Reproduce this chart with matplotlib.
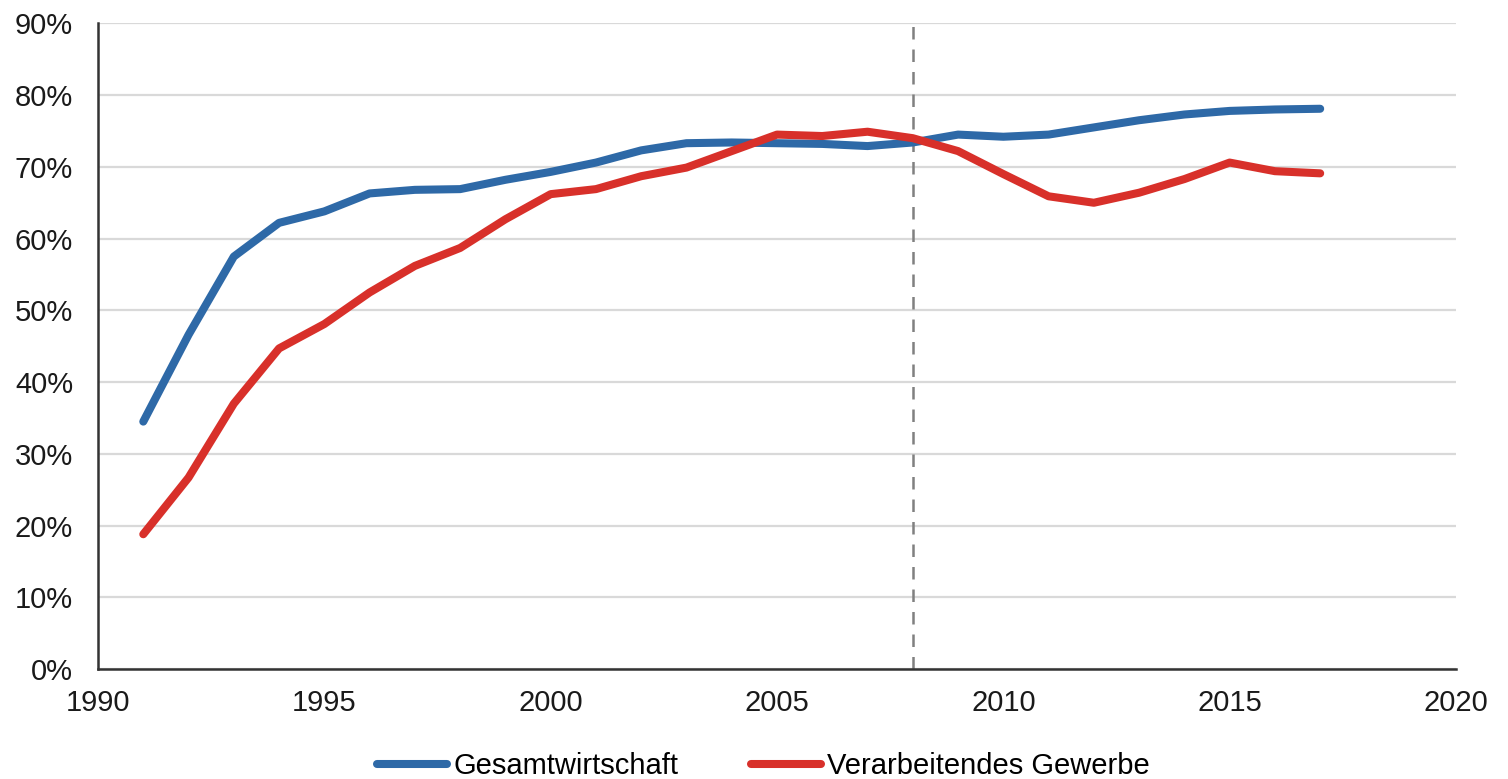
import matplotlib.pyplot as plt
from matplotlib.ticker import FuncFormatter

plt.rcParams['font.family'] = ['Liberation Sans', 'DejaVu Sans']

years = list(range(1991, 2018))
gesamt = [34.5, 46.6, 57.5, 62.2, 63.8, 66.3, 66.8, 66.9, 68.2, 69.3,
          70.6, 72.3, 73.3, 73.4, 73.3, 73.2, 72.9, 73.4, 74.5, 74.2,
          74.5, 75.5, 76.5, 77.3, 77.8, 78.0, 78.1]
verarb = [18.8, 26.7, 37.0, 44.7, 48.1, 52.5, 56.2, 58.7, 62.7, 66.2,
          66.9, 68.7, 69.9, 72.2, 74.5, 74.3, 74.9, 74.0, 72.2, 69.0,
          65.9, 65.0, 66.4, 68.3, 70.6, 69.4, 69.1]
series_names = ['Gesamtwirtschaft', 'Verarbeitendes Gewerbe']
series_colors = ['#2e69a7', '#d8302a']
crisis_year = 2008

fig, ax = plt.subplots(figsize=(15.08, 7.79), dpi=100)
fig.subplots_adjust(left=0.065, right=0.9655, bottom=0.141, top=0.97)

for vals, name, col in zip([gesamt, verarb], series_names, series_colors):
    ax.plot(years, vals, color=col, lw=5.8, label=name,
            solid_capstyle='round', solid_joinstyle='round', zorder=3)

ax.axvline(crisis_year, color='#808080', lw=1.8, ls=(0, (5, 4)), zorder=2)

ax.set_xlim(1990, 2020)
ax.set_ylim(0, 90)
ax.set_xticks(range(1990, 2021, 5))
ax.set_yticks(range(0, 91, 10))
ax.yaxis.set_major_formatter(FuncFormatter(lambda v, p: f'{v:.0f}%'))
ax.tick_params(axis='both', length=0, labelsize=21, colors='#1a1a1a')
ax.tick_params(axis='x', pad=14)
ax.tick_params(axis='y', pad=18)

ax.grid(axis='y', color='#d9d9d9', lw=1.6, zorder=0)
ax.set_axisbelow(True)
for s in ['top', 'right']:
    ax.spines[s].set_visible(False)
for s in ['left', 'bottom']:
    ax.spines[s].set_color('#333333')
    ax.spines[s].set_linewidth(1.8)

ax.legend(loc='upper center', bbox_to_anchor=(0.49, -0.124), ncol=2,
          frameon=False, fontsize=21, handlelength=2.4, handletextpad=0.2,
          columnspacing=2.5, borderaxespad=0.0, borderpad=0.1)

fig.savefig('out.png', dpi=100)
